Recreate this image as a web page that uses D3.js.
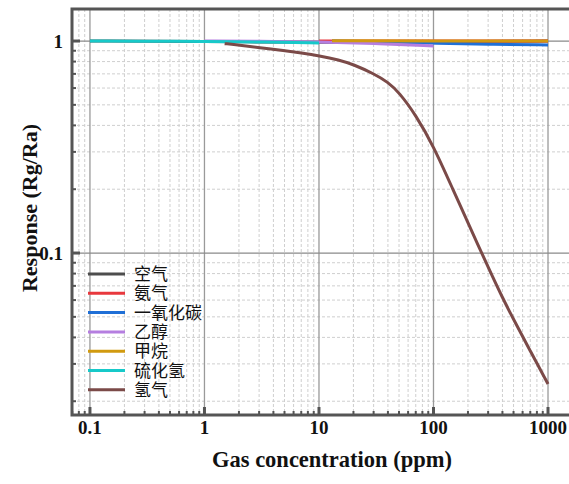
<!DOCTYPE html>
<html>
<head>
<meta charset="utf-8">
<script src="https://cdn.jsdelivr.net/npm/d3@7"></script>
<style>
  html, body { margin: 0; padding: 0; background: #fff; }
  svg { display: block; }
</style>
</head>
<body>
<svg id="chart" width="569" height="484"></svg>
<script>
// Gas response (Rg/Ra) versus concentration, log-log axes
const seriesNames = ["空气", "氨气", "一氧化碳", "乙醇", "甲烷", "硫化氢", "氢气"];
const seriesColors = ["#4d4d4d", "#e8383d", "#1f6fd6", "#b57ee0", "#d19a0f", "#17c9c9", "#7b4a48"];

const airConc = [0.1, 1, 10, 100, 1000];
const airResp = [1.0, 0.995, 0.985, 0.99, 1.0];

const ammoniaConc = [10, 100, 1000];
const ammoniaResp = [1.0, 1.0, 1.0];

const coConc = [13, 50, 100, 300, 1000];
const coResp = [1.0, 0.99, 0.975, 0.965, 0.958];

const ethanolConc = [1, 3, 10, 30, 100];
const ethanolResp = [1.0, 0.997, 0.99, 0.975, 0.947];

const methaneConc = [13, 100, 1000];
const methaneResp = [1.003, 1.001, 1.0];

const h2sConc = [0.1, 0.3, 1, 3, 10];
const h2sResp = [1.0, 0.998, 0.995, 0.99, 0.98];

const h2Conc = [1.5, 2, 3, 5, 7, 10, 15, 20, 30, 40, 50, 70, 100, 150, 200, 300, 400, 500, 700, 1000];
const h2Resp = [0.972, 0.958, 0.93, 0.9, 0.878, 0.853, 0.815, 0.775, 0.702, 0.64, 0.573, 0.448, 0.32, 0.196, 0.139, 0.0857, 0.0615, 0.0487, 0.0345, 0.0241];

const seriesConc = [airConc, ammoniaConc, coConc, ethanolConc, methaneConc, h2sConc, h2Conc];
const seriesResp = [airResp, ammoniaResp, coResp, ethanolResp, methaneResp, h2sResp, h2Resp];

const xTickLabels = ["0.1", "1", "10", "100", "1000"];
const xMajor = [0.1, 1, 10, 100, 1000];
const yTickLabels = ["0.1", "1"];
const yMajor = [0.1, 1];

const xDomain = [0.0697, 1620];
const yDomain = [0.01722, 1.416];

const plotL = 72, plotR = 572, plotT = 9, plotB = 415;

const svg = d3.select("#chart");
const x = d3.scaleLog().domain(xDomain).range([plotL, plotR]);
const y = d3.scaleLog().domain(yDomain).range([plotB, plotT]);

// minor tick positions in each decade
function minorTicks(domain) {
  const out = [];
  for (let e = -3; e <= 4; e++) {
    for (let m = 2; m <= 9; m++) {
      const v = m * Math.pow(10, e);
      if (v > domain[0] && v < domain[1]) out.push(+v.toPrecision(3));
    }
  }
  return out;
}
const xMinor = minorTicks(xDomain);
const yMinor = minorTicks(yDomain);

const grid = svg.append("g");
grid.selectAll(".vminor").data(xMinor).join("line")
  .attr("x1", d => x(d)).attr("x2", d => x(d))
  .attr("y1", plotT).attr("y2", plotB)
  .attr("stroke", "#cfcfcf").attr("stroke-width", 1).attr("stroke-dasharray", "3,2");
grid.selectAll(".hminor").data(yMinor).join("line")
  .attr("x1", plotL).attr("x2", plotR)
  .attr("y1", d => y(d)).attr("y2", d => y(d))
  .attr("stroke", "#cfcfcf").attr("stroke-width", 1).attr("stroke-dasharray", "3,2");
grid.selectAll(".vmajor").data(xMajor).join("line")
  .attr("x1", d => x(d)).attr("x2", d => x(d))
  .attr("y1", plotT).attr("y2", plotB)
  .attr("stroke", "#9a9a9a").attr("stroke-width", 1.3);
grid.selectAll(".hmajor").data(yMajor).join("line")
  .attr("x1", plotL).attr("x2", plotR)
  .attr("y1", d => y(d)).attr("y2", d => y(d))
  .attr("stroke", "#8a8a8a").attr("stroke-width", 1.3);

// clip the curves to the plot area
svg.append("clipPath").attr("id", "plotClip")
  .append("rect").attr("x", plotL).attr("y", plotT).attr("width", plotR - plotL).attr("height", plotB - plotT);

const line = d3.line().x(d => x(d[0])).y(d => y(d[1])).curve(d3.curveBasis);
const curves = svg.append("g").attr("clip-path", "url(#plotClip)");
seriesNames.forEach((name, i) => {
  const pts = seriesConc[i].map((c, j) => [c, seriesResp[i][j]]);
  curves.append("path").datum(pts)
    .attr("d", line)
    .attr("fill", "none")
    .attr("stroke", seriesColors[i])
    .attr("stroke-width", 3)
    .attr("stroke-linecap", "butt");
});

// inward ticks on the left and bottom axes
const axisColor = "#555";
const ticks = svg.append("g");
ticks.selectAll(".xt").data(xMinor).join("line")
  .attr("x1", d => x(d)).attr("x2", d => x(d))
  .attr("y1", plotB).attr("y2", plotB - 4)
  .attr("stroke", axisColor).attr("stroke-width", 2);
ticks.selectAll(".xT").data(xMajor).join("line")
  .attr("x1", d => x(d)).attr("x2", d => x(d))
  .attr("y1", plotB).attr("y2", plotB - 8)
  .attr("stroke", axisColor).attr("stroke-width", 3);
ticks.selectAll(".yt").data(yMinor).join("line")
  .attr("x1", plotL).attr("x2", plotL + 4)
  .attr("y1", d => y(d)).attr("y2", d => y(d))
  .attr("stroke", axisColor).attr("stroke-width", 2);
ticks.selectAll(".yT").data(yMajor).join("line")
  .attr("x1", plotL).attr("x2", plotL + 8)
  .attr("y1", d => y(d)).attr("y2", d => y(d))
  .attr("stroke", axisColor).attr("stroke-width", 3);

// frame
svg.append("rect")
  .attr("x", plotL).attr("y", plotT)
  .attr("width", plotR - plotL).attr("height", plotB - plotT)
  .attr("fill", "none").attr("stroke", axisColor).attr("stroke-width", 3);

// tick labels
const serif = "'Liberation Serif', 'Times New Roman', serif";
svg.selectAll(".xl").data(xMajor).join("text")
  .attr("x", d => x(d)).attr("y", 434)
  .attr("text-anchor", "middle")
  .attr("font-family", serif).attr("font-weight", "bold").attr("font-size", 19)
  .attr("fill", "#111")
  .text((d, i) => xTickLabels[i]);
svg.selectAll(".yl").data(yMajor).join("text")
  .attr("x", 63).attr("y", d => y(d)).attr("dy", "0.35em")
  .attr("text-anchor", "end")
  .attr("font-family", serif).attr("font-weight", "bold").attr("font-size", 19)
  .attr("fill", "#111")
  .text((d, i) => yTickLabels[i]);

// axis titles
svg.append("text")
  .attr("x", 332).attr("y", 467)
  .attr("text-anchor", "middle")
  .attr("font-family", serif).attr("font-weight", "bold").attr("font-size", 22.5)
  .attr("fill", "#111")
  .text("Gas concentration (ppm)");
svg.append("text")
  .attr("transform", "translate(37,208) rotate(-90)")
  .attr("text-anchor", "middle")
  .attr("font-family", serif).attr("font-weight", "bold").attr("font-size", 22)
  .attr("fill", "#111")
  .text("Response (Rg/Ra)");

// legend
const legend = svg.append("g");
seriesNames.forEach((name, i) => {
  const ly = 274 + i * 19.3;
  legend.append("line")
    .attr("x1", 88).attr("x2", 125).attr("y1", ly).attr("y2", ly)
    .attr("stroke", seriesColors[i]).attr("stroke-width", 3);
  legend.append("text")
    .attr("x", 134).attr("y", ly).attr("dy", "0.36em")
    .attr("font-family", "'Noto Sans CJK SC', sans-serif").attr("font-size", 17)
    .attr("fill", "#111")
    .text(name);
});
</script>
</body>
</html>
